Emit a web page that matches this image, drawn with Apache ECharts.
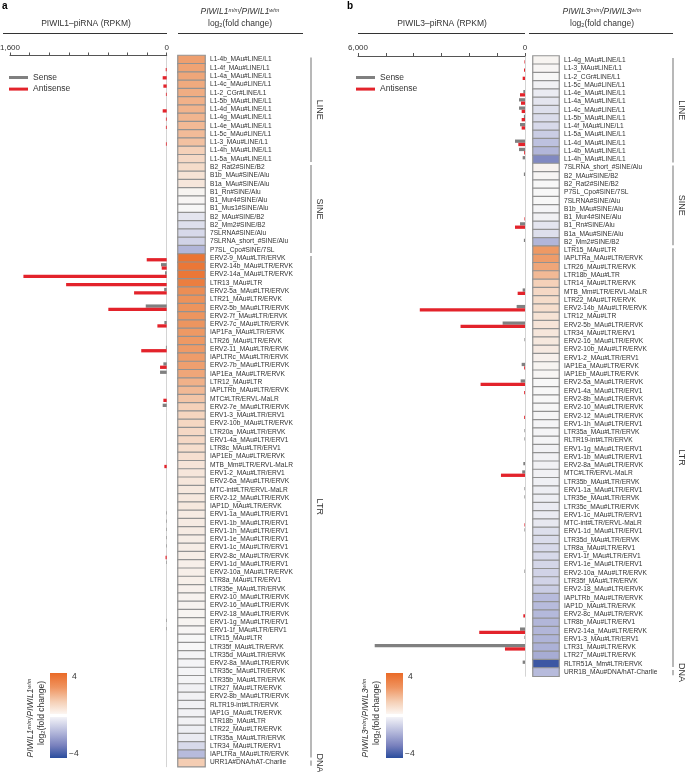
<!DOCTYPE html>
<html><head><meta charset="utf-8">
<script src="https://cdn.jsdelivr.net/npm/echarts@6/dist/echarts.min.js"></script>
<style>html,body{margin:0;padding:0;background:#fff}#c{width:685px;height:772px}</style>
</head><body><div id="c"></div>
<script>
// ---------------- DATA ----------------
const catsA = ['L1-4b_MAu#LINE/L1','L1-4f_MAu#LINE/L1','L1-4a_MAu#LINE/L1','L1-4c_MAu#LINE/L1','L1-2_CGr#LINE/L1','L1-5b_MAu#LINE/L1','L1-4d_MAu#LINE/L1','L1-4g_MAu#LINE/L1','L1-4e_MAu#LINE/L1','L1-5c_MAu#LINE/L1','L1-3_MAu#LINE/L1','L1-4h_MAu#LINE/L1','L1-5a_MAu#LINE/L1',
'B2_Rat2#SINE/B2','B1b_MAu#SINE/Alu','B1a_MAu#SINE/Alu','B1_Rn#SINE/Alu','B1_Mur4#SINE/Alu','B1_Mus1#SINE/Alu','B2_MAu#SINE/B2','B2_Mm2#SINE/B2','7SLRNA#SINE/Alu','7SLRNA_short_#SINE/Alu','P7SL_Cpo#SINE/7SL',
'ERV2-9_MAu#LTR/ERVK','ERV2-14b_MAu#LTR/ERVK','ERV2-14a_MAu#LTR/ERVK','LTR13_MAu#LTR','ERV2-5a_MAu#LTR/ERVK','LTR21_MAu#LTR/ERVK','ERV2-5b_MAu#LTR/ERVK','ERV2-7f_MAu#LTR/ERVK','ERV2-7c_MAu#LTR/ERVK','IAP1Fa_MAu#LTR/ERVK','LTR26_MAu#LTR/ERVK','ERV2-11_MAu#LTR/ERVK','IAPLTRc_MAu#LTR/ERVK','ERV2-7b_MAu#LTR/ERVK','IAP1Ea_MAu#LTR/ERVK','LTR12_MAu#LTR','IAPLTRb_MAu#LTR/ERVK','MTC#LTR/ERVL-MaLR','ERV2-7e_MAu#LTR/ERVK','ERV1-3_MAu#LTR/ERV1','ERV2-10b_MAu#LTR/ERVK','LTR20a_MAu#LTR/ERVK','ERV1-4a_MAu#LTR/ERV1','LTR8c_MAu#LTR/ERV1','IAP1Eb_MAu#LTR/ERVK','MTB_Mm#LTR/ERVL-MaLR','ERV1-2_MAu#LTR/ERV1','ERV2-6a_MAu#LTR/ERVK','MTC-int#LTR/ERVL-MaLR','ERV2-12_MAu#LTR/ERVK','IAP1D_MAu#LTR/ERVK','ERV1-1a_MAu#LTR/ERV1','ERV1-1b_MAu#LTR/ERV1','ERV1-1h_MAu#LTR/ERV1','ERV1-1e_MAu#LTR/ERV1','ERV1-1c_MAu#LTR/ERV1','ERV2-8c_MAu#LTR/ERVK','ERV1-1d_MAu#LTR/ERV1','ERV2-10a_MAu#LTR/ERVK','LTR8a_MAu#LTR/ERV1','LTR35e_MAu#LTR/ERVK','ERV2-10_MAu#LTR/ERVK','ERV2-16_MAu#LTR/ERVK','ERV2-18_MAu#LTR/ERVK','ERV1-1g_MAu#LTR/ERV1','ERV1-1f_MAu#LTR/ERV1','LTR15_MAu#LTR','LTR35f_MAu#LTR/ERVK','LTR35d_MAu#LTR/ERVK','ERV2-8a_MAu#LTR/ERVK','LTR35c_MAu#LTR/ERVK','LTR35b_MAu#LTR/ERVK','LTR27_MAu#LTR/ERVK','ERV2-8b_MAu#LTR/ERVK','RLTR19-int#LTR/ERVK','IAP1G_MAu#LTR/ERVK','LTR18b_MAu#LTR','LTR22_MAu#LTR/ERVK','LTR35a_MAu#LTR/ERVK','LTR34_MAu#LTR/ERV1','IAPLTRa_MAu#LTR/ERVK',
'URR1A#DNA/hAT-Charlie'];
const groupsA = [['LINE',13],['SINE',11],['LTR',61],['DNA',1]];
const fcA = [2.4,2.3,2.2,2.1,2.0,1.9,1.85,1.8,1.7,1.65,1.5,1.1,0.9,
 0.8,0.6,0.5,0.1,0.05,0.0,-0.3,-0.4,-0.5,-0.6,-1.1,
 3.7,3.6,3.6,3.4,2.9,2.8,2.75,2.7,2.7,2.6,2.6,2.55,2.5,2.4,2.2,1.9,1.7,1.4,1.1,
 1.0,0.95,0.9,0.9,0.75,0.7,0.55,0.5,0.5,0.45,0.45,0.45,0.35,0.35,0.35,0.3,0.3,0.3,0.25,0.25,0.25,0.2,0.15,0.12,0.1,0.1,0.05,
 0,0,-0.05,-0.05,-0.05,-0.05,-0.1,-0.1,-0.1,-0.1,-0.1,-0.15,-0.2,-0.5,-1.0,
 1.2];
const senseA = [0,0,0,0,0,0,0,0,0,0, 0,0,0,0,0,0,0,0,0,0, 0,0,0,0,0,58,17,0,26,0, 214,0,24,0,0,8,0,34,68,0,
 0,0,41,0,0,0,0,0,0,0, 0,0,0,0,0,5,5,5,5,5, 0,5,0,0,0,0,0,0,5,5, 0,0,0,0,0,0,0,0,0,0, 0,0,0,0,0,0];
const antiA = [0,10,41,34,8,0,41,8,8,0, 8,0,0,0,0,0,0,0,0,0, 0,0,0,0,204,51,1463,1027,333,0, 596,0,95,0,0,260,0,68,0,0,
 0,34,0,0,0,0,0,0,0,24, 0,0,0,0,0,0,0,0,0,0, 12,0,0,0,0,0,0,0,0,0, 0,0,0,0,0,0,0,0,0,0, 0,0,0,0,0,0];
const maxA = 1600, stepA = 200;

const catsB = ['L1-4g_MAu#LINE/L1','L1-3_MAu#LINE/L1','L1-2_CGr#LINE/L1','L1-5c_MAu#LINE/L1','L1-4e_MAu#LINE/L1','L1-4a_MAu#LINE/L1','L1-4c_MAu#LINE/L1','L1-5b_MAu#LINE/L1','L1-4f_MAu#LINE/L1','L1-5a_MAu#LINE/L1','L1-4d_MAu#LINE/L1','L1-4b_MAu#LINE/L1','L1-4h_MAu#LINE/L1',
'7SLRNA_short_#SINE/Alu','B2_MAu#SINE/B2','B2_Rat2#SINE/B2','P7SL_Cpo#SINE/7SL','7SLRNA#SINE/Alu','B1b_MAu#SINE/Alu','B1_Mur4#SINE/Alu','B1_Rn#SINE/Alu','B1a_MAu#SINE/Alu','B2_Mm2#SINE/B2',
'LTR15_MAu#LTR','IAPLTRa_MAu#LTR/ERVK','LTR26_MAu#LTR/ERVK','LTR18b_MAu#LTR','LTR14_MAu#LTR/ERVK','MTB_Mm#LTR/ERVL-MaLR','LTR22_MAu#LTR/ERVK','ERV2-14b_MAu#LTR/ERVK','LTR12_MAu#LTR','ERV2-5b_MAu#LTR/ERVK','LTR34_MAu#LTR/ERV1','ERV2-16_MAu#LTR/ERVK','ERV2-10b_MAu#LTR/ERVK','ERV1-2_MAu#LTR/ERV1','IAP1Ea_MAu#LTR/ERVK','IAP1Eb_MAu#LTR/ERVK','ERV2-5a_MAu#LTR/ERVK','ERV1-4a_MAu#LTR/ERV1','ERV2-8b_MAu#LTR/ERVK','ERV2-10_MAu#LTR/ERVK','ERV2-12_MAu#LTR/ERVK','ERV1-1h_MAu#LTR/ERV1','LTR35a_MAu#LTR/ERVK','RLTR19-int#LTR/ERVK','ERV1-1g_MAu#LTR/ERV1','ERV1-1b_MAu#LTR/ERV1','ERV2-8a_MAu#LTR/ERVK','MTC#LTR/ERVL-MaLR','LTR35b_MAu#LTR/ERVK','ERV1-1a_MAu#LTR/ERV1','LTR35e_MAu#LTR/ERVK','LTR35c_MAu#LTR/ERVK','ERV1-1c_MAu#LTR/ERV1','MTC-int#LTR/ERVL-MaLR','ERV1-1d_MAu#LTR/ERV1','LTR35d_MAu#LTR/ERVK','LTR8a_MAu#LTR/ERV1','ERV1-1f_MAu#LTR/ERV1','ERV1-1e_MAu#LTR/ERV1','ERV2-10a_MAu#LTR/ERVK','LTR35f_MAu#LTR/ERVK','ERV2-18_MAu#LTR/ERVK','IAPLTRb_MAu#LTR/ERVK','IAP1D_MAu#LTR/ERVK','ERV2-8c_MAu#LTR/ERVK','LTR8b_MAu#LTR/ERV1','ERV2-14a_MAu#LTR/ERVK','ERV1-3_MAu#LTR/ERV1','LTR31_MAu#LTR/ERVK','LTR27_MAu#LTR/ERVK','RLTR51A_Mm#LTR/ERVK',
'URR1B_MAu#DNA/hAT-Charlie'];
const groupsB = [['LINE',13],['SINE',10],['LTR',51],['DNA',1]];
const fcB = [0.1,0.05,0,-0.1,-0.2,-0.3,-0.4,-0.45,-0.5,-0.7,-0.9,-1.1,-2.0,
 0.15,0.05,0,0,0,-0.05,-0.1,-0.3,-0.4,-1.1,
 2.6,2.5,2.2,1.7,1.1,0.9,0.8,0.75,0.6,0.55, 0.5,0.45,0.4,0.2,0.1,0.05,0,0,0,-0.02, -0.03,-0.05,-0.05,-0.05,-0.1,-0.1,-0.1,-0.1,-0.12,-0.15,
 -0.15,-0.2,-0.2,-0.25,-0.4,-0.45,-0.5,-0.5,-0.55,-0.6, -0.6,-0.7,-1.0,-1.0,-1.05,-1.1,-1.1,-1.15,-1.2,-1.3, -3.6,
 -1.0];
const senseB = [0,0,0,0,60,216,216,40,180,0, 360,216,84,0,40,0,0,0,0,0, 180,0,40,0,0,0,0,0,84,0,
 300,0,804,0,20,0,0,120,0,156, 0,0,0,0,0,20,20,0,0,60, 100,0,20,20,0,0,0,20,0,0, 0,0,20,0,0,0,0,0,0,180, 20,5400,0,84,0];
const antiB = [20,36,84,0,180,144,120,120,120,0, 240,30,0,0,0,0,0,0,0,20, 360,0,0,0,0,0,0,0,264,0,
 3780,0,2316,0,0,0,0,30,0,1596, 30,0,0,30,0,0,0,0,0,0, 864,0,0,0,0,0,20,0,0,0, 0,0,0,0,0,0,0,60,0,1644, 0,720,0,0,0];
const maxB = 6000, stepB = 1000;

const fcColors = ['#2a4d9d','#5767ad','#8189c1','#b7bbdc','#f7f7f7','#f5d5bf','#f0ad83','#ec8b50','#ea6a27'];

// ---------------- CHART ----------------
const FONT = '"Liberation Sans", Arial, Helvetica, sans-serif';
const ROW = 8.27, TOP_A = 55.5, TOP_B = 56;
const chart = echarts.init(document.getElementById('c'));

function toGroups(g){ let s=0; return g.map(([n,c])=>{const o={name:n,start:s,end:s+c-1}; s+=c; return o;}); }
const gA = toGroups(groupsA), gB = toGroups(groupsB);

function bracket(groups, xOff){
  return function(params, api){
    const g = groups[params.dataIndex];
    const h = api.size([0,1])[1];
    const y0 = api.coord([0, g.start])[1] - h/2 + 2;
    const y1 = api.coord([0, g.end])[1] + h/2 - 1;
    const x = params.coordSys.x + params.coordSys.width + xOff;
    return {type:'group', children:[
      {type:'line', shape:{x1:x,y1:y0,x2:x,y2:y1}, style:{stroke:'#9a9a9a', lineWidth:1.4}},
      {type:'text', x:x+8.5, y:(y0+y1)/2, rotation:-Math.PI/2,
       style:{text:g.name, fontSize:9, fill:'#333', fontFamily:FONT, align:'center', verticalAlign:'middle', textAlign:'center', textVerticalAlign:'middle'}}
    ]};
  };
}

function valAxis(grid, max, step){
  return {type:'value', gridIndex:grid, inverse:true, min:0, max:max, interval:step, position:'top',
    axisLine:{show:true, onZero:false, lineStyle:{color:'#555', width:1}},
    axisTick:{show:true, length:3, lineStyle:{color:'#555'}},
    axisLabel:{fontSize:8, color:'#333', fontFamily:FONT, margin:4, showMinLabel:true, showMaxLabel:true,
      formatter:v=> (v===0||v===max) ? v.toLocaleString('en-US') : ''},
    splitLine:{show:false}};
}
function barCatAxis(grid, cats){
  return {type:'category', gridIndex:grid, data:cats, inverse:true, position:'right',
    axisLine:{show:true, onZero:false, lineStyle:{color:'#d4d4d4', width:1}},
    axisTick:{show:false}, axisLabel:{show:false}};
}
function heatCatAxis(grid, cats){
  return {type:'category', gridIndex:grid, data:cats, inverse:true, position:'right',
    axisLine:{show:false}, axisTick:{show:false},
    axisLabel:{show:true, interval:0, fontSize:6.6, color:'#333', fontFamily:FONT, margin:5}};
}
function heatSeries(xi, fc){
  return {type:'heatmap', xAxisIndex:xi, yAxisIndex:xi, data:fc.map((v,i)=>[0,i,v]),
    itemStyle:{borderColor:'#929292', borderWidth:1.2}, emphasis:{disabled:true}};
}
function barSeries(name, xi, data, color){
  return {type:'bar', name:name, xAxisIndex:xi, yAxisIndex:xi, data:data, barWidth:3.3, barGap:'0%',
    itemStyle:{color:color}, silent:true};
}

function header(x, y, gene){
  return {type:'text', x:x, y:y, style:{
    text:'{i|'+gene+'}{s|m/m}{i|/'+gene+'}{s|w/m}',
    rich:{i:{fontStyle:'italic', fontSize:8.5, fontFamily:FONT, fill:'#333', color:'#333'},
          s:{fontStyle:'italic', fontSize:5.5, fontFamily:FONT, fill:'#333', color:'#333', verticalAlign:'top'}},
    align:'center', verticalAlign:'middle', textAlign:'center', textVerticalAlign:'middle'}};
}
function logText(x, y, rot){
  return {type:'text', x:x, y:y, rotation:rot||0, style:{
    text:'{n|log}{b|2}{n|(fold change)}',
    rich:{n:{fontSize:8.5, fontFamily:FONT, fill:'#333', color:'#333'},
          b:{fontSize:5.5, fontFamily:FONT, fill:'#333', color:'#333', verticalAlign:'bottom'}},
    align:'center', verticalAlign:'middle', textAlign:'center', textVerticalAlign:'middle'}};
}
function plain(x, y, t, opts){
  return Object.assign({type:'text', x:x, y:y, style:Object.assign({text:t, fontSize:8.5, fontFamily:FONT, fill:'#333',
    align:'left', verticalAlign:'middle', textAlign:'left', textVerticalAlign:'middle'}, (opts&&opts.style)||{})},
    (opts&&opts.el)||{});
}
function hline(x1, x2, y){
  return {type:'line', shape:{x1:x1,y1:y,x2:x2,y2:y}, style:{stroke:'#333', lineWidth:1.2}};
}
function colorbar(x, gene, tx1, tx2){
  return [
    {type:'rect', shape:{x:x, y:673, width:17, height:41}, style:{fill:new echarts.graphic.LinearGradient(0,0,0,1,[
      {offset:0,color:'#ea6a27'},{offset:0.35,color:'#ef9460'},{offset:0.7,color:'#f5cfb5'},{offset:1,color:'#fcf6f2'}])}},
    {type:'rect', shape:{x:x, y:717, width:17, height:41}, style:{fill:new echarts.graphic.LinearGradient(0,0,0,1,[
      {offset:0,color:'#f3f3f8'},{offset:0.35,color:'#b7bbdc'},{offset:0.7,color:'#7880bd'},{offset:1,color:'#2a4d9d'}])}},
    plain(x+22, 677, '4'),
    plain(x+19, 754, '\u22124'),
    Object.assign(header(tx1, 718, gene), {rotation:Math.PI/2}),
    logText(tx2, 713, Math.PI/2)
  ];
}

const option = {
  animation:false,
  backgroundColor:'#fff',
  textStyle:{fontFamily:FONT},
  grid:[
    {left:10, top:TOP_A, width:156.7, height:catsA.length*ROW, outerBoundsMode:'none', containLabel:false},
    {left:178, top:TOP_A, width:27, height:catsA.length*ROW, outerBoundsMode:'none', containLabel:false},
    {left:358, top:TOP_B, width:167, height:catsB.length*ROW, outerBoundsMode:'none', containLabel:false},
    {left:533, top:TOP_B, width:26, height:catsB.length*ROW, outerBoundsMode:'none', containLabel:false}
  ],
  xAxis:[
    valAxis(0, maxA, stepA),
    {type:'category', gridIndex:1, data:['v'], show:false},
    valAxis(2, maxB, stepB),
    {type:'category', gridIndex:3, data:['v'], show:false}
  ],
  yAxis:[ barCatAxis(0, catsA), heatCatAxis(1, catsA), barCatAxis(2, catsB), heatCatAxis(3, catsB) ],
  visualMap:[
    {type:'continuous', min:-4, max:4, dimension:2, seriesIndex:2, show:false, inRange:{color:fcColors}},
    {type:'continuous', min:-4, max:4, dimension:2, seriesIndex:6, show:false, inRange:{color:fcColors}}
  ],
  legend:[
    {data:['Sense','Antisense'], orient:'vertical', left:4, top:68, itemWidth:19, itemHeight:3, itemGap:2.6, icon:'rect', selectedMode:false,
     textStyle:{fontSize:8.5, color:'#333', fontFamily:FONT}},
    {data:['Sense','Antisense'], orient:'vertical', left:351, top:68, itemWidth:19, itemHeight:3, itemGap:2.6, icon:'rect', selectedMode:false,
     textStyle:{fontSize:8.5, color:'#333', fontFamily:FONT}}
  ],
  series:[
    barSeries('Sense', 0, senseA, '#808080'),
    barSeries('Antisense', 0, antiA, '#e3232b'),
    heatSeries(1, fcA),
    {type:'custom', xAxisIndex:1, yAxisIndex:1, clip:false, silent:true, renderItem:bracket(gA, 106),
     data:gA.map(g=>[0, g.start]), encode:{x:0, y:1}},
    barSeries('Sense', 2, senseB, '#808080'),
    barSeries('Antisense', 2, antiB, '#e3232b'),
    heatSeries(3, fcB),
    {type:'custom', xAxisIndex:3, yAxisIndex:3, clip:false, silent:true, renderItem:bracket(gB, 114),
     data:gB.map(g=>[0, g.start]), encode:{x:0, y:1}}
  ],
  graphic:[].concat(
    [plain(2, 6, 'a', {style:{fontWeight:'bold', fontSize:10, fill:'#000'}}),
     plain(347, 6, 'b', {style:{fontWeight:'bold', fontSize:10, fill:'#000'}}),
     plain(86, 24, 'PIWIL1\u2013piRNA (RPKM)', {style:{align:'center', textAlign:'center'}}),
     plain(442, 24, 'PIWIL3\u2013piRNA (RPKM)', {style:{align:'center', textAlign:'center'}}),
     header(240, 12, 'PIWIL1'), logText(240, 24),
     header(602, 12, 'PIWIL3'), logText(602, 24),
     hline(3, 167, 33.5), hline(178, 303, 33.5), hline(358, 525, 33.5), hline(529, 673, 33.5)],
    colorbar(50, 'PIWIL1', 31, 42),
    colorbar(386, 'PIWIL3', 366, 377)
  )
};
chart.setOption(option);
</script></body></html>
